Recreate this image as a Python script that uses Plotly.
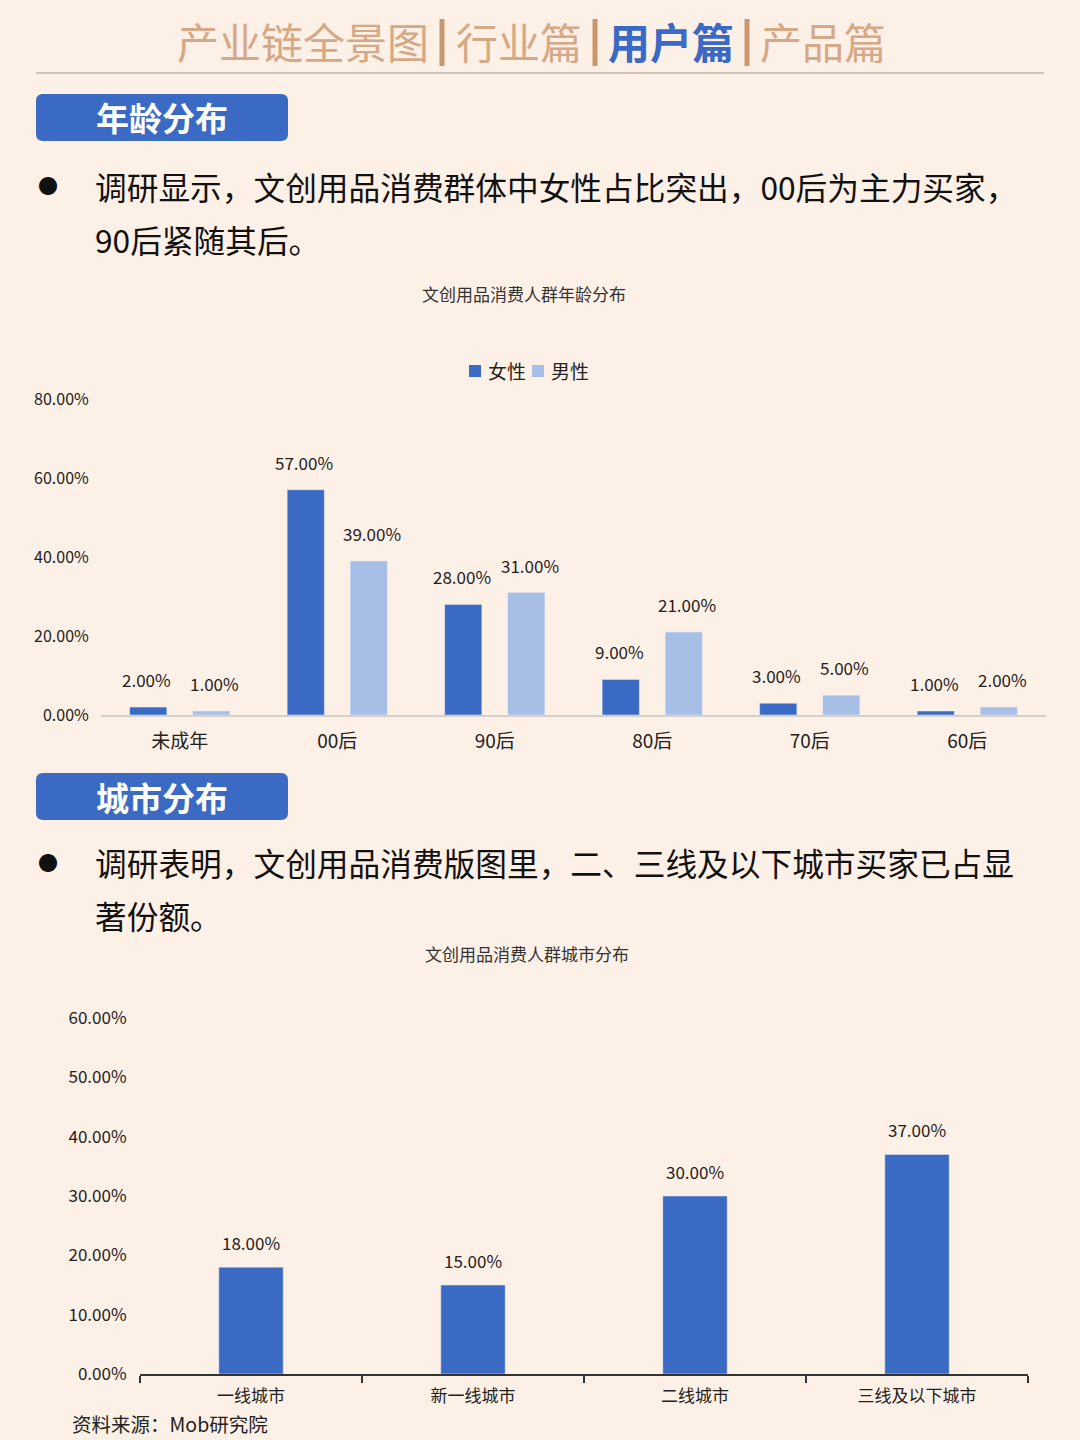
import plotly.graph_objects as go

# ---------------- data ----------------
age_groups = ["未成年", "00后", "90后", "80后", "70后", "60后"]
female_pct = [2, 57, 28, 9, 3, 1]
male_pct = [1, 39, 31, 21, 5, 2]

city_tiers = ["一线城市", "新一线城市", "二线城市", "三线及以下城市"]
city_pct = [18, 15, 30, 37]

age_ticks = [0, 20, 40, 60, 80]
city_ticks = [0, 10, 20, 30, 40, 50, 60]

# ---------------- style ----------------
W, H = 1080, 1440
BG = "#FDF0E6"
BLUE = "#3A6AC4"
LIGHT = "#A7BFE6"
TAN = "#D5A886"
SEP = "#C9966E"
FONT = "Noto Sans CJK SC"


def px_x(x):
    return x / W


def px_y(y):
    return 1 - y / H


fig = go.Figure()

fig.add_trace(go.Bar(
    x=age_groups, y=female_pct, name="女性", marker_color=BLUE,
    xaxis="x", yaxis="y", hoverinfo="skip", showlegend=False))
fig.add_trace(go.Bar(
    x=age_groups, y=male_pct, name="男性", marker_color=LIGHT,
    xaxis="x", yaxis="y", hoverinfo="skip", showlegend=False))
fig.add_trace(go.Bar(
    x=city_tiers, y=city_pct, name="城市", marker_color=BLUE,
    xaxis="x2", yaxis="y2", showlegend=False, hoverinfo="skip",
    width=0.29))

annotations = []
shapes = []

# data labels chart 1
for cat, f, m in zip(age_groups, female_pct, male_pct):
    annotations.append(dict(xref="x", yref="y", x=cat, y=f, text=f"{f:.2f}%",
                            showarrow=False, yanchor="bottom", yshift=13, xshift=-33,
                            font=dict(size=17, color="#222", family=FONT)))
    annotations.append(dict(xref="x", yref="y", x=cat, y=m, text=f"{m:.2f}%",
                            showarrow=False, yanchor="bottom", yshift=13, xshift=35,
                            font=dict(size=17, color="#222", family=FONT)))
# data labels chart 2
for cat, v in zip(city_tiers, city_pct):
    annotations.append(dict(xref="x2", yref="y2", x=cat, y=v, text=f"{v:.2f}%",
                            showarrow=False, yanchor="bottom", yshift=10,
                            font=dict(size=17, color="#222", family=FONT)))

# manual legend
legend_items = [("女性", BLUE, 469), ("男性", LIGHT, 532)]
for name, col, lx in legend_items:
    shapes.append(dict(type="rect", xref="paper", yref="paper",
                       x0=px_x(lx), x1=px_x(lx + 12), y0=px_y(377), y1=px_y(365),
                       fillcolor=col, line=dict(width=0)))
    annotations.append(dict(xref="paper", yref="paper", x=px_x(lx + 17), y=px_y(371),
                            text=name, showarrow=False, xanchor="left", yanchor="middle",
                            font=dict(size=19, color="#222", family=FONT)))

# header
head_parts = [("产业链全景图", 303, TAN, False), ("行业篇", 519, TAN, False),
              ("用户篇", 671, BLUE, True), ("产品篇", 823, TAN, False)]
for txt, cx, col, bold in head_parts:
    annotations.append(dict(xref="paper", yref="paper", x=px_x(cx), y=px_y(40),
                            text=f"<b>{txt}</b>" if bold else txt, showarrow=False,
                            xanchor="center", yanchor="middle",
                            font=dict(size=42, color=col, family=FONT)))
for sx in [442, 595, 747]:
    shapes.append(dict(type="rect", xref="paper", yref="paper",
                       x0=px_x(sx - 2.5), x1=px_x(sx + 2.5), y0=px_y(66), y1=px_y(19),
                       fillcolor=SEP, line=dict(width=0)))
shapes.append(dict(type="line", xref="paper", yref="paper",
                   x0=px_x(36), x1=px_x(1044), y0=px_y(73), y1=px_y(73),
                   line=dict(color="#CBC3BC", width=2)))


def rounded_rect(x0, y0, x1, y1, r):
    def P(x, y):
        return f"{px_x(x):.5f},{px_y(y):.5f}"
    return (f"M {P(x0 + r, y0)} L {P(x1 - r, y0)} Q {P(x1, y0)} {P(x1, y0 + r)} "
            f"L {P(x1, y1 - r)} Q {P(x1, y1)} {P(x1 - r, y1)} "
            f"L {P(x0 + r, y1)} Q {P(x0, y1)} {P(x0, y1 - r)} "
            f"L {P(x0, y0 + r)} Q {P(x0, y0)} {P(x0 + r, y0)} Z")


for (y0, y1, label) in [(94, 141, "年龄分布"), (773, 820, "城市分布")]:
    shapes.append(dict(type="path", xref="paper", yref="paper",
                       path=rounded_rect(36, y0, 288, y1, 7),
                       fillcolor=BLUE, line=dict(width=0)))
    annotations.append(dict(xref="paper", yref="paper", x=px_x(162), y=px_y((y0 + y1) / 2),
                            text=f"<b>{label}</b>", showarrow=False,
                            xanchor="center", yanchor="middle",
                            font=dict(size=33, color="white", family=FONT)))

# bullets
bullets = [
    (186, ["调研显示，文创用品消费群体中女性占比突出，00后为主力买家，", "90后紧随其后。"]),
    (862, ["调研表明，文创用品消费版图里，二、三线及以下城市买家已占显", "著份额。"]),
]
for y, lines in bullets:
    annotations.append(dict(xref="paper", yref="paper", x=px_x(48), y=px_y(y),
                            text="●", showarrow=False, xanchor="center", yanchor="middle",
                            font=dict(size=20, color="#111", family=FONT)))
    for i, ln in enumerate(lines):
        annotations.append(dict(xref="paper", yref="paper", x=px_x(93), y=px_y(y + i * 53),
                                text=ln, showarrow=False, xanchor="left", yanchor="middle",
                                font=dict(size=31.7, color="#111", family=FONT)))

# chart titles
annotations.append(dict(xref="paper", yref="paper", x=px_x(524), y=px_y(293),
                        text="文创用品消费人群年龄分布", showarrow=False,
                        xanchor="center", yanchor="middle",
                        font=dict(size=17, color="#333", family=FONT)))
annotations.append(dict(xref="paper", yref="paper", x=px_x(527), y=px_y(953),
                        text="文创用品消费人群城市分布", showarrow=False,
                        xanchor="center", yanchor="middle",
                        font=dict(size=17, color="#333", family=FONT)))
# source
annotations.append(dict(xref="paper", yref="paper", x=px_x(70), y=px_y(1423),
                        text="资料来源：Mob研究院", showarrow=False,
                        xanchor="left", yanchor="middle",
                        font=dict(size=19.5, color="#222", family=FONT)))

fig.update_layout(
    width=W, height=H,
    margin=dict(l=0, r=0, t=0, b=0, pad=0, autoexpand=False),
    paper_bgcolor=BG, plot_bgcolor=BG,
    font=dict(family=FONT, color="#222"),
    barmode="group", bargap=0.2, bargroupgap=0.41,
    showlegend=False,
    xaxis=dict(domain=[px_x(101), px_x(1046)], anchor="y", showline=True, automargin=False,
               linecolor="#D6D0CA", linewidth=2, showgrid=False, zeroline=False,
               ticks="outside", ticklen=8, tickcolor="rgba(0,0,0,0)",
               tickfont=dict(size=19, color="#222", family=FONT), fixedrange=True),
    yaxis=dict(domain=[px_y(715), px_y(399)], anchor="x", range=[0, 80], automargin=False,
               tickvals=age_ticks, ticktext=[f"{v:.2f}%" for v in age_ticks],
               showgrid=False, zeroline=False, showline=False,
               ticks="outside", ticklen=8, tickcolor="rgba(0,0,0,0)",
               tickfont=dict(size=16, color="#222", family=FONT)),
    xaxis2=dict(domain=[px_x(140), px_x(1028)], anchor="y2", showline=True, automargin=False,
                linecolor="#333", linewidth=2, showgrid=False, zeroline=False,
                ticks="outside", tickson="boundaries", ticklen=7, tickcolor="#333", tickwidth=2,
                ticklabelstandoff=6,
                tickfont=dict(size=17, color="#222", family=FONT)),
    yaxis2=dict(domain=[px_y(1374), px_y(1018)], anchor="x2", range=[0, 60], automargin=False,
                tickvals=city_ticks, ticktext=[f"{v:.2f}%" for v in city_ticks],
                showgrid=False, zeroline=False, showline=False,
                ticks="outside", ticklen=9, tickcolor="rgba(0,0,0,0)",
                tickfont=dict(size=17, color="#222", family=FONT)),
    annotations=annotations,
    shapes=shapes,
)

fig.write_html("out.html")
